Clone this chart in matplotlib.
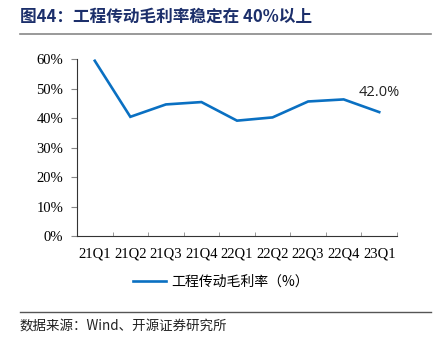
import matplotlib
matplotlib.use("Agg")
import matplotlib.pyplot as plt
from matplotlib.lines import Line2D

categories = ["21Q1", "21Q2", "21Q3", "21Q4", "22Q1", "22Q2", "22Q3", "22Q4", "23Q1"]
margin = [59.4, 40.4, 44.6, 45.4, 39.1, 40.2, 45.6, 46.3, 42.0]
yticks = [0, 10, 20, 30, 40, 50, 60]
series_name = "工程传动毛利率（%）"
title = "图44：工程传动毛利率稳定在 40%以上"
source = "数据来源：Wind、开源证券研究所"

plt.rcParams['font.family'] = ['Liberation Serif', 'Noto Sans CJK SC', 'DejaVu Sans']

fig = plt.figure(figsize=(4.45, 3.47), dpi=100)
ax = fig.add_axes([77/445, 1-236/347, (397-77)/445, (236-59)/347])

color = "#0A70C2"
x = list(range(len(categories)))
ax.plot(x, margin, color=color, lw=1.9, solid_joinstyle="miter")

ax.set_xlim(-0.5, len(categories) - 0.5)
ax.set_ylim(0, 60)
ax.set_yticks(yticks)
ax.set_yticklabels([f"{v}%" for v in yticks])
ax.set_xticks(x)
ax.set_xticklabels(categories)
ax.set_xticks([i - 0.5 for i in range(len(categories) + 1)], minor=True)
ax.tick_params(axis="x", which="major", length=0, pad=8, labelsize=10.5)
ax.tick_params(axis="x", which="minor", direction="in", length=3, color="#888888")
ax.tick_params(axis="y", which="major", direction="out", length=4, color="#888888", pad=6, labelsize=10.5)
for s in ["top", "right"]:
    ax.spines[s].set_visible(False)
for s in ["left", "bottom"]:
    ax.spines[s].set_color("#333333")
    ax.spines[s].set_linewidth(0.8)

ax.annotate(f"{margin[-1]:.1f}%", xy=(x[-1], margin[-1]), xytext=(0, 9),
            textcoords="offset points", ha="center", va="bottom",
            fontsize=10.5, family=["Open Sans", "DejaVu Sans"], color="#222222")

# legend
handle = Line2D([], [], color=color, lw=1.9)
fig.legend([handle], [series_name], loc="center", bbox_to_anchor=(221/445, 1-282/347),
           frameon=False, handlelength=2.4, handletextpad=0.35,
           prop={"family": ["Noto Sans CJK SC"], "size": 10})

# title
fig.text(20/445, 1-17/347, title, ha="left", va="center", fontsize=12, fontweight="bold",
         color="#1C2F6B", family=["Noto Sans CJK SC", "DejaVu Sans"])
fig.add_artist(Line2D([20/445, 431/445], [1-34/347, 1-34/347], color="#888888", lw=1.2))
fig.add_artist(Line2D([20/445, 431/445], [1-312/347, 1-312/347], color="#555555", lw=1.0))
fig.text(20/445, 1-326/347, source, ha="left", va="center", fontsize=9.7,
         color="#222222", family=["Noto Sans CJK SC", "DejaVu Sans"])

fig.savefig("out.png", dpi=100)
